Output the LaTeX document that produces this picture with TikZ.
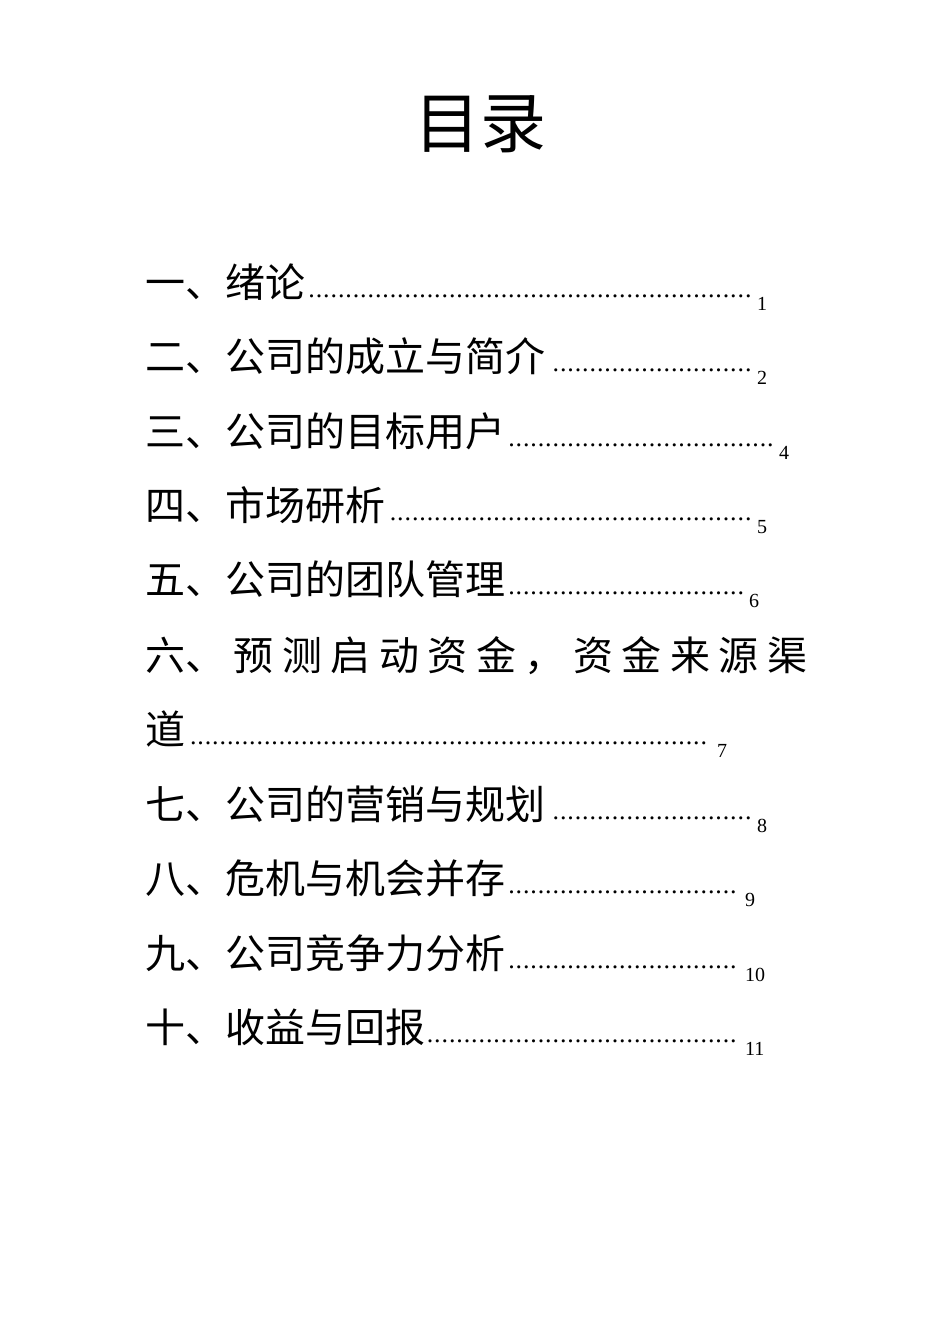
\documentclass[tikz,border=0pt]{standalone}
\usepackage{fontspec}
\setmainfont{Liberation Serif}
\newfontfamily\cjk{Noto Sans CJK SC}[Scale=1]
\newcommand{\mydots}{\leaders\hbox to 7.4pt{\hss\fontsize{26}{26}\selectfont.\hss}\hfill}
\tikzset{
  entry/.style={anchor=base west, inner sep=0pt, font=\fontsize{40}{40}\selectfont},
  pnum/.style={anchor=base west, inner sep=0pt, font=\fontsize{20}{20}\selectfont}
}
\begin{document}
\begin{tikzpicture}[x=1pt,y=1pt]
\useasboundingbox (0,0) rectangle (950,-1344);
\node[inner sep=0pt, font=\cjk\fontsize{66}{66}\selectfont] (title) at (480,-124) {目录};
\def\row#1#2#3#4#5{%
  \node[entry] (e#1) at (145,-#2) {\makebox[#4pt][l]{{\cjk #3}\mydots}};
  \node[pnum] (p#1) at (#4+149,-#2-13) {#5};}
\row{1}{297}{一、绪论}{608}{1}
\row{2}{371}{二、公司的成立与简介}{608}{2}
\row{3}{446}{三、公司的目标用户}{630}{4}
\row{4}{520}{四、市场研析}{608}{5}
\row{5}{594}{五、公司的团队管理}{600}{6}
\node[entry] (e6a) at (145,-670) {\makebox[662pt][s]{\cjk 六、\hfill 预\hfill 测\hfill 启\hfill 动\hfill 资\hfill 金\hfill ，\hfill 资\hfill 金\hfill 来\hfill 源\hfill 渠}};
\row{6}{744}{道}{568}{7}
\row{7}{819}{七、公司的营销与规划}{608}{8}
\row{8}{893}{八、危机与机会并存}{596}{9}
\row{9}{968}{九、公司竞争力分析}{596}{10}
\row{10}{1042}{十、收益与回报}{596}{11}
\end{tikzpicture}
\end{document}
